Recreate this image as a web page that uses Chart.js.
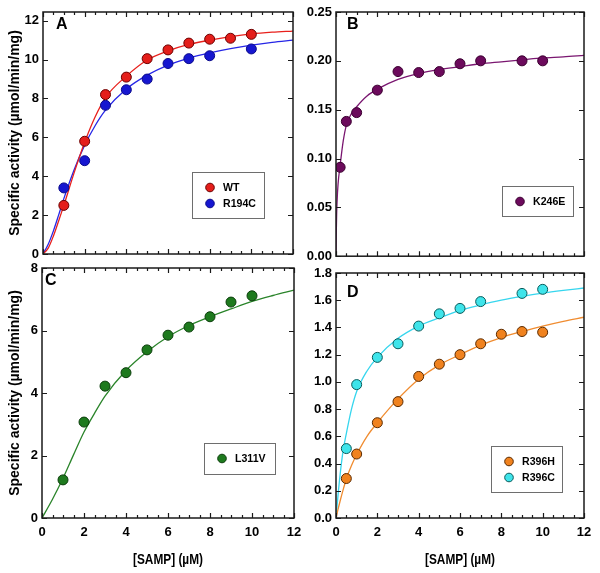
<!DOCTYPE html>
<html>
<head>
<meta charset="utf-8">
<script src="https://cdn.jsdelivr.net/npm/chart.js@4.4.0/dist/chart.umd.min.js"></script>
<style>
  html, body { margin: 0; padding: 0; background: #fff; }
  #wrap { position: relative; width: 600px; height: 573px; overflow: hidden; }
  .panel { position: absolute; }
</style>
</head>
<body>
<div id="wrap">
  <div class="panel" style="left:0;top:0;width:300px;height:266px"><canvas id="chartA"></canvas></div>
  <div class="panel" style="left:300px;top:0;width:300px;height:268px"><canvas id="chartB"></canvas></div>
  <div class="panel" style="left:0;top:256px;width:306px;height:317px"><canvas id="chartC"></canvas></div>
  <div class="panel" style="left:300px;top:256px;width:300px;height:317px"><canvas id="chartD"></canvas></div>
</div>
<script>
// ---- tick labels ----
const xTicks = [0, 2, 4, 6, 8, 10, 12];
const yTicksA = [0, 2, 4, 6, 8, 10, 12];
const yTicksB = [0, 0.05, 0.10, 0.15, 0.20, 0.25];
const yTicksC = [0, 2, 4, 6, 8];
const yTicksD = [0, 0.2, 0.4, 0.6, 0.8, 1.0, 1.2, 1.4, 1.6, 1.8];

// ---- panel A: WT / R194C ----
const wtX = [1, 2, 3, 4, 5, 6, 7, 8, 9, 10];
const wtY = [2.5, 5.8, 8.2, 9.1, 10.05, 10.5, 10.85, 11.05, 11.1, 11.3];
const r194cX = [1, 2, 3, 4, 5, 6, 7, 8, 10];
const r194cY = [3.4, 4.8, 7.65, 8.45, 9.0, 9.8, 10.05, 10.2, 10.55];
const fitAX = [0, 0.25, 0.5, 0.75, 1, 1.5, 2, 2.5, 3, 4, 5, 6, 7, 8, 9, 10, 11, 12];
const wtFitY = [0, 0.3, 0.93, 1.7, 2.5, 4.2, 5.75, 7.05, 8.05, 9.15, 9.98, 10.45, 10.78, 11.0, 11.18, 11.32, 11.41, 11.47];
const r194cFitY = [0, 0.5, 1.19, 2.0, 2.85, 4.35, 5.6, 6.6, 7.4, 8.49, 9.2, 9.72, 10.08, 10.35, 10.57, 10.75, 10.89, 11.0];

// ---- panel B: K246E ----
const k246eX = [0.2, 0.5, 1, 2, 3, 4, 5, 6, 7, 9, 10];
const k246eY = [0.091, 0.138, 0.147, 0.170, 0.189, 0.188, 0.189, 0.197, 0.200, 0.200, 0.200];
const fitBX = [0, 0.01, 0.03, 0.05, 0.1, 0.2, 0.35, 0.5, 0.75, 1, 1.5, 2, 3, 4, 5, 6, 7, 8, 9, 10, 11, 12];
const k246eFitY = [0, 0.02, 0.042, 0.055, 0.074, 0.093, 0.118, 0.134, 0.146, 0.153, 0.164, 0.171, 0.181, 0.187, 0.191, 0.194, 0.197, 0.199, 0.201, 0.203, 0.204, 0.2055];

// ---- panel C: L311V ----
const l311vX = [1, 2, 3, 4, 5, 6, 7, 8, 9, 10];
const l311vY = [1.22, 3.07, 4.22, 4.65, 5.38, 5.85, 6.11, 6.44, 6.91, 7.11];
const fitCX = [0, 0.5, 1, 1.5, 2, 2.5, 3, 4, 5, 6, 7, 8, 9, 10, 11, 12];
const l311vFitY = [0, 0.6, 1.27, 2.02, 2.75, 3.35, 3.9, 4.72, 5.32, 5.8, 6.16, 6.44, 6.69, 6.93, 7.12, 7.29];

// ---- panel D: R396H / R396C ----
const r396hX = [0.5, 1, 2, 3, 4, 5, 6, 7, 8, 9, 10];
const r396hY = [0.29, 0.47, 0.70, 0.855, 1.04, 1.13, 1.20, 1.28, 1.35, 1.37, 1.365];
const r396cX = [0.5, 1, 2, 3, 4, 5, 6, 7, 9, 10];
const r396cY = [0.51, 0.98, 1.18, 1.28, 1.41, 1.50, 1.54, 1.59, 1.65, 1.68];
const fitDX = [0, 0.1, 0.2, 0.35, 0.5, 0.75, 1, 1.5, 2, 3, 4, 5, 6, 7, 8, 9, 10, 11, 12];
const r396hFitY = [0, 0.065, 0.125, 0.21, 0.287, 0.385, 0.466, 0.6, 0.7, 0.875, 1.02, 1.125, 1.2, 1.27, 1.326, 1.37, 1.41, 1.445, 1.475];
const r396cFitY = [0, 0.17, 0.32, 0.5, 0.62, 0.8, 0.93, 1.08, 1.18, 1.32, 1.41, 1.47, 1.525, 1.565, 1.6, 1.628, 1.652, 1.672, 1.69];

const FONT = "'Liberation Sans', Arial, Helvetica, sans-serif";
const Y_TITLE = 'Specific activity (\u00b5mol/min/mg)';
const X_TITLE = '[SAMP] (\u00b5M)';

const pts = (xs, ys) => xs.map((x, i) => ({ x, y: ys[i] }));

function pointSet(label, xs, ys, fill, edge) {
  return {
    label,
    data: pts(xs, ys),
    showLine: false,
    pointRadius: 5,
    pointHoverRadius: 5,
    pointBackgroundColor: fill,
    pointBorderColor: edge,
    pointBorderWidth: 1,
    backgroundColor: fill,
    borderColor: edge,
  };
}

function fitSet(xs, ys, color) {
  return {
    data: pts(xs, ys),
    showLine: true,
    pointRadius: 0,
    borderColor: color,
    borderWidth: 1.3,
    fill: false,
    cubicInterpolationMode: 'monotone',
  };
}

// inner ticks on all four sides + box round the plot
const framePlugin = {
  id: 'frame',
  afterDatasetsDraw(chart) {
    const { ctx, chartArea: a, scales: { x, y } } = chart;
    ctx.save();
    ctx.strokeStyle = '#1a1a1a';
    ctx.lineWidth = 1.5;
    ctx.strokeRect(a.left, a.top, a.right - a.left, a.bottom - a.top);
    ctx.lineWidth = 1.2;
    ctx.beginPath();
    for (let k = 0; k <= 24; k++) {
      const v = k * 0.5;
      const px = Math.round(x.getPixelForValue(v)) + 0.5;
      const len = k % 4 === 0 ? 5 : 3;
      ctx.moveTo(px, a.bottom); ctx.lineTo(px, a.bottom - len);
      ctx.moveTo(px, a.top); ctx.lineTo(px, a.top + len);
    }
    y.ticks.forEach((t) => {
      const py = Math.round(y.getPixelForValue(t.value)) + 0.5;
      ctx.moveTo(a.left, py); ctx.lineTo(a.left + 5, py);
      ctx.moveTo(a.right, py); ctx.lineTo(a.right - 5, py);
    });
    ctx.stroke();
    ctx.restore();
  },
};

// boxed legend inside the plot
const boxLegendPlugin = {
  id: 'boxLegend',
  afterDraw(chart, args, opts) {
    const { ctx } = chart;
    const items = chart.data.datasets.filter((d) => d.label);
    ctx.save();
    ctx.fillStyle = '#fff';
    ctx.fillRect(opts.x, opts.y, opts.w, opts.h);
    ctx.strokeStyle = '#6e6e6e';
    ctx.lineWidth = 1;
    ctx.strokeRect(opts.x + 0.5, opts.y + 0.5, opts.w, opts.h);
    ctx.font = `bold 11.5px ${FONT}`;
    ctx.textBaseline = 'middle';
    items.forEach((d, i) => {
      const cy = opts.y + 15.5 + i * 16;
      ctx.beginPath();
      ctx.arc(opts.x + 18, cy, 4.3, 0, Math.PI * 2);
      ctx.fillStyle = d.pointBackgroundColor;
      ctx.fill();
      ctx.strokeStyle = d.pointBorderColor;
      ctx.stroke();
      ctx.fillStyle = '#000';
      ctx.save();
      ctx.translate(opts.x + 31, cy + 0.5);
      ctx.scale(0.92, 1);
      ctx.fillText(d.label, 0, 0);
      ctx.restore();
    });
    ctx.restore();
  },
};

const panelLabelPlugin = {
  id: 'panelLabel',
  afterDraw(chart, args, opts) {
    const { ctx, chartArea: a } = chart;
    ctx.save();
    ctx.font = `bold 16px ${FONT}`;
    ctx.fillStyle = '#000';
    ctx.textBaseline = 'alphabetic';
    ctx.fillText(opts.text, a.left + opts.dx, a.top + opts.dy);
    ctx.restore();
  },
};

// condensed x-axis title, centred under the plot
const xTitlePlugin = {
  id: 'xTitle',
  afterDraw(chart, args, opts) {
    if (!opts.display) return;
    const { ctx, chartArea: a } = chart;
    ctx.save();
    ctx.font = `bold 15px ${FONT}`;
    ctx.fillStyle = '#000';
    ctx.textAlign = 'center';
    ctx.textBaseline = 'middle';
    ctx.translate((a.left + a.right) / 2, a.bottom + opts.dy);
    ctx.scale(0.79, 1);
    ctx.fillText(X_TITLE, 0, 0);
    ctx.restore();
  },
};

function makeChart(id, cfg) {
  const tickList = cfg.yTicks;
  return new Chart(document.getElementById(id), {
    type: 'line',
    data: { datasets: cfg.datasets },
    plugins: [framePlugin, boxLegendPlugin, panelLabelPlugin, xTitlePlugin],
    options: {
      responsive: true,
      maintainAspectRatio: false,
      devicePixelRatio: 1,
      animation: false,
      events: [],
      layout: { padding: cfg.padding },
      scales: {
        x: {
          type: 'linear',
          min: 0,
          max: 12,
          border: { display: false },
          grid: { display: false, drawTicks: false },
          afterBuildTicks: (s) => { s.ticks = xTicks.map((v) => ({ value: v })); },
          afterFit: (s) => { s.height = cfg.xHeight; s.paddingLeft = 0; s.paddingRight = 0; },
          ticks: {
            display: cfg.showX,
            autoSkip: false,
            maxRotation: 0,
            padding: 7,
            color: '#000',
            font: { family: FONT, size: 13, weight: 'bold' },
          },
        },
        y: {
          type: 'linear',
          min: 0,
          max: cfg.yMax,
          border: { display: false },
          grid: { display: false, drawTicks: false },
          afterBuildTicks: (s) => { s.ticks = tickList.map((v) => ({ value: v })); },
          afterFit: (s) => { s.width = cfg.yWidth; },
          ticks: {
            autoSkip: false,
            padding: 4,
            color: '#000',
            font: { family: FONT, size: 13, weight: 'bold' },
            callback: (v) => v.toFixed(cfg.decimals),
          },
          title: {
            display: cfg.showYTitle,
            text: Y_TITLE,
            color: '#000',
            padding: { top: 7, bottom: 0 },
            font: { family: FONT, size: 14, weight: 'bold' },
          },
        },
      },
      plugins: {
        legend: { display: false },
        tooltip: { enabled: false },
        boxLegend: cfg.legend,
        panelLabel: cfg.label,
        xTitle: { display: cfg.showX, dy: 42 },
      },
    },
  });
}

makeChart('chartA', {
  yTicks: yTicksA, yMax: 12.45, decimals: 0,
  padding: { top: 12, right: 7, left: 0, bottom: 0 },
  yWidth: 43, xHeight: 12, showX: false, showYTitle: true,
  legend: { x: 192, y: 172, w: 72, h: 46 },
  label: { text: 'A', dx: 13, dy: 17 },
  datasets: [
    pointSet('WT', wtX, wtY, '#e41e1a', '#6a0000'),
    pointSet('R194C', r194cX, r194cY, '#1616d0', '#0a0a8a'),
    fitSet(fitAX, wtFitY, '#e8201c'),
    fitSet(fitAX, r194cFitY, '#2626e6'),
  ],
});

makeChart('chartB', {
  yTicks: yTicksB, yMax: 0.25, decimals: 2,
  padding: { top: 12, right: 16, left: 0, bottom: 0 },
  yWidth: 36, xHeight: 9, showX: false, showYTitle: false,
  legend: { x: 202, y: 186, w: 71, h: 30 },
  label: { text: 'B', dx: 11, dy: 17 },
  datasets: [
    pointSet('K246E', k246eX, k246eY, '#6c0a5c', '#3a0030'),
    fitSet(fitBX, k246eFitY, '#7a1670'),
  ],
});

makeChart('chartC', {
  yTicks: yTicksC, yMax: 8, decimals: 0,
  padding: { top: 12, right: 12, left: 0, bottom: 0 },
  yWidth: 42, xHeight: 55, showX: true, showYTitle: true,
  legend: { x: 204, y: 187, w: 71, h: 31 },
  label: { text: 'C', dx: 3, dy: 17 },
  datasets: [
    pointSet('L311V', l311vX, l311vY, '#1e7a1e', '#0b3d0b'),
    fitSet(fitCX, l311vFitY, '#2a842a'),
  ],
});

makeChart('chartD', {
  yTicks: yTicksD, yMax: 1.8, decimals: 1,
  padding: { top: 17, right: 16, left: 0, bottom: 0 },
  yWidth: 36, xHeight: 55, showX: true, showYTitle: false,
  legend: { x: 191, y: 190, w: 71, h: 46 },
  label: { text: 'D', dx: 11, dy: 24 },
  datasets: [
    pointSet('R396H', r396hX, r396hY, '#f0821e', '#5a2a00'),
    pointSet('R396C', r396cX, r396cY, '#3ee4ea', '#0a5a5a'),
    fitSet(fitDX, r396hFitY, '#f08c30'),
    fitSet(fitDX, r396cFitY, '#36d6ee'),
  ],
});
</script>
</body>
</html>
